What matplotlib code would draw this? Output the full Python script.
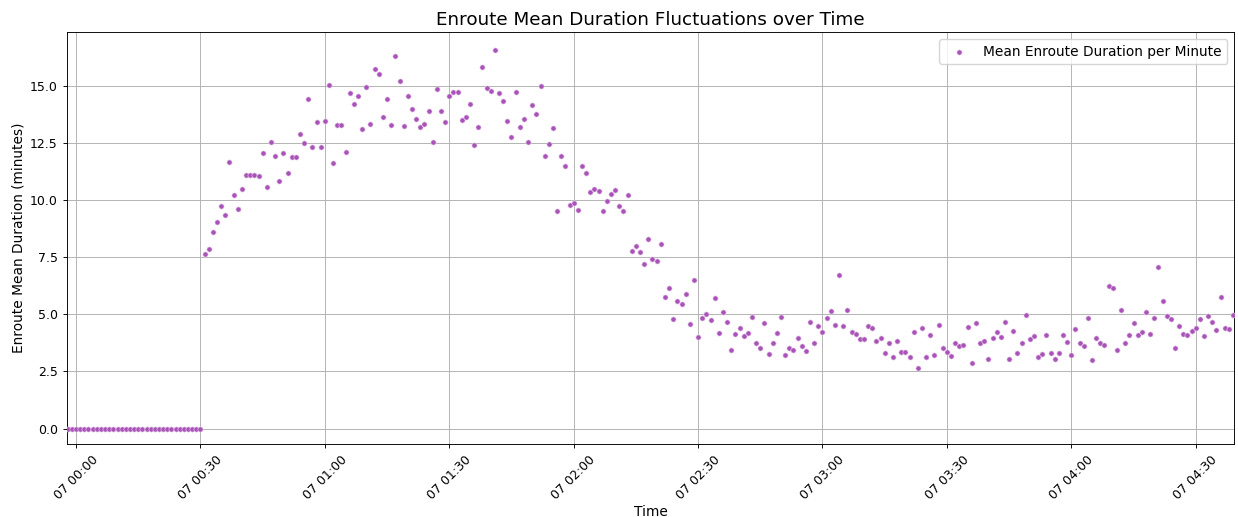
import pandas as pd
import numpy as np
import matplotlib
matplotlib.use("Agg")
import matplotlib.pyplot as plt
import matplotlib.dates as mdates
from matplotlib.ticker import MultipleLocator

# one value per minute, starting 06 23:58
start_time = "2024-05-06 23:58"

zeros_part = [0.0] * 33  # 23:58 .. 00:30

rise_part = [
    7.62, 7.86, 8.59, 9.02, 9.75, 9.34, 11.68, 10.22, 9.61, 10.48,
    11.09, 11.09, 11.09, 11.06, 12.04, 10.58, 12.52, 11.94, 10.85, 12.04,
    11.17, 11.90, 11.90, 12.89, 12.48, 14.42, 12.33, 13.40, 12.30, 13.47,
]  # 00:31 .. 01:00

peak_part = [
    15.03, 11.60, 13.28, 13.28, 12.08, 14.66, 14.20, 14.56, 13.10, 14.96,
    13.32, 15.73, 15.51, 13.64, 14.42, 13.28, 16.31, 15.22, 13.25, 14.53,
    13.98, 13.54, 13.21, 13.32, 13.91, 12.55, 14.85, 13.88, 13.40, 14.56,
    14.74, 14.74, 13.50, 13.62, 14.20, 12.41, 13.18, 15.80, 14.90, 14.78,
    16.57, 14.66, 14.34, 13.47, 12.77, 14.74, 13.21, 13.54, 12.55, 14.17,
    13.76, 15.00, 11.92, 12.43, 13.13, 9.51, 11.92, 11.48, 9.80, 9.88,
]  # 01:01 .. 02:00

fall_part = [
    9.58, 11.48, 11.19, 10.34, 10.49, 10.39, 9.51, 9.95, 10.28, 10.43,
    9.73, 9.51, 10.21, 7.79, 7.98, 7.72, 7.18, 8.30, 7.43, 7.35,
    8.08, 5.75, 6.16, 4.80, 5.57, 5.43, 5.90, 4.58, 6.52, 4.00,
]  # 02:01 .. 02:30

tail_part = [
    4.84, 5.01, 4.76, 5.73, 4.20, 5.12, 4.68, 3.44, 4.13, 4.42,
    4.05, 4.20, 4.90, 3.73, 3.54, 4.61, 3.25, 3.76, 4.17, 4.90,
    3.22, 3.51, 3.44, 3.95, 3.62, 3.40, 4.68, 3.76, 4.49, 4.24,
    4.83, 5.15, 4.53, 6.72, 4.49, 5.19, 4.21, 4.13, 3.91, 3.91,
    4.49, 4.42, 3.85, 3.98, 3.29, 3.76, 3.12, 3.85, 3.37, 3.34,
    3.15, 4.21, 2.64, 4.42, 3.15, 4.10, 3.22, 4.53, 3.51, 3.37,
    3.18, 3.73, 3.62, 3.66, 4.46, 2.89, 4.61, 3.76, 3.85, 3.05,
    3.98, 4.24, 4.02, 4.68, 3.05, 4.27, 3.29, 3.76, 4.97, 3.91,
    4.05, 3.15, 3.25, 4.10, 3.32, 3.05, 3.32, 4.10, 3.80, 3.22,
    4.34, 3.73, 3.62, 4.85, 3.00, 3.95, 3.73, 3.66, 6.25, 6.17,
    3.44, 5.19, 3.73, 4.10, 4.61, 4.10, 4.24, 5.12, 4.13, 4.83,
    7.08, 5.58, 4.93, 4.78, 3.51, 4.49, 4.13, 4.10, 4.27, 4.39,
    4.78, 4.05, 4.93, 4.68, 4.31, 5.77, 4.42, 4.34, 4.97,
]  # 02:31 .. 04:39

mean_duration = zeros_part + rise_part + peak_part + fall_part + tail_part
times = pd.date_range(start=start_time, periods=len(mean_duration), freq="min")

fig = plt.figure(figsize=(12.38, 5.17), dpi=100)
ax = fig.add_axes([0.0539, 0.1412, 0.9431, 0.7963])

ax.scatter(times, mean_duration, s=14, color="#a953b8", edgecolors="#ecd6ef",
           linewidths=0.4, label="Mean Enroute Duration per Minute", zorder=3)

t0 = pd.Timestamp("2024-05-07 00:00")
ax.set_xlim(t0 - pd.Timedelta(minutes=2.25), t0 + pd.Timedelta(minutes=279.3))
ax.set_ylim(-0.67, 17.33)
ax.yaxis.set_major_locator(MultipleLocator(2.5))
ax.xaxis.set_major_locator(mdates.MinuteLocator(byminute=[0, 30]))
ax.xaxis.set_major_formatter(mdates.DateFormatter("%d %H:%M"))
ax.tick_params(labelsize=9, width=0.66, length=2.9)
plt.setp(ax.get_xticklabels(), rotation=45)
for sp in ax.spines.values():
    sp.set_linewidth(0.66)

ax.set_title("Enroute Mean Duration Fluctuations over Time", fontsize=13.2, pad=5)
ax.set_xlabel("Time", fontsize=9.9, labelpad=2)
ax.set_ylabel("Enroute Mean Duration (minutes)", fontsize=9.9, labelpad=3)
ax.legend(loc="upper right", fontsize=9.9)
ax.grid(True, linewidth=0.66)

fig.savefig("out.png", dpi=100)
